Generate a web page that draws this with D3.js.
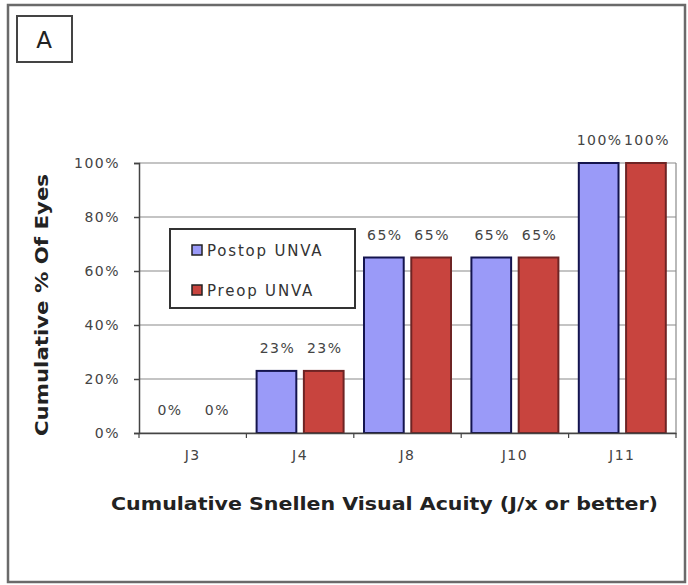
<!DOCTYPE html>
<html><head><meta charset="utf-8">
<script src="https://cdn.jsdelivr.net/npm/d3@7"></script>
<style>body{margin:0;background:#fff}svg{display:block}</style>
</head><body>
<svg id="c" width="688" height="585"></svg>
<script>
const categories = ["J3","J4","J8","J10","J11"];
const seriesNames = ["Postop UNVA","Preop UNVA"];
const postop = [0,23,65,65,100];
const preop = [0,23,65,65,100];
const yTicks = [0,20,40,60,80,100];
const seriesColors = ["#9a9af8","#c8443e"];
const seriesStrokes = ["#14144e","#6e2424"];

const svg = d3.select("#c");
const font = "Verdana, 'DejaVu Sans', sans-serif";
// outer frame
svg.append("rect").attr("x",8).attr("y",5).attr("width",677).attr("height",577)
  .attr("fill","#fff").attr("stroke","#6a6a6a").attr("stroke-width",2.5);
// panel label
svg.append("rect").attr("x",17).attr("y",16).attr("width",55).attr("height",46)
  .attr("fill","#fff").attr("stroke","#444").attr("stroke-width",2);
svg.append("text").attr("x",44).attr("y",48).attr("text-anchor","middle")
  .attr("font-family",font).attr("font-size",23).attr("fill","#222").text("A");

const m = {left:139, right:676, top:163, bottom:433};
const x = d3.scaleBand().domain(categories).range([m.left,m.right]).paddingInner(0.19).paddingOuter(0.095);
const xs = d3.scaleBand().domain(seriesNames).range([0,x.bandwidth()]).paddingInner(0.16);
const y = d3.scaleLinear().domain([0,100]).range([m.bottom,m.top]);

// grid
svg.append("g").selectAll("line").data(yTicks).join("line")
  .attr("x1",m.left).attr("x2",m.right).attr("y1",d=>y(d)).attr("y2",d=>y(d))
  .attr("stroke","#8a8a8a").attr("stroke-width",1.2);
svg.append("line").attr("x1",m.right).attr("x2",m.right).attr("y1",m.top).attr("y2",m.bottom)
  .attr("stroke","#8a8a8a").attr("stroke-width",1.2);

const data = [postop, preop];
const lblStyle = s => s.attr("font-family",font).attr("font-size",14).attr("letter-spacing",1.5).attr("fill","#444");
categories.forEach((c,i)=>{
  seriesNames.forEach((s,j)=>{
    const v = data[j][i];
    const bx = x(c)+xs(s);
    if (v>0) {
      svg.append("rect").attr("x",bx).attr("y",y(v)).attr("width",xs.bandwidth()).attr("height",y(0)-y(v))
        .attr("fill",seriesColors[j]).attr("stroke",seriesStrokes[j]).attr("stroke-width",2);
    }
    svg.append("text").attr("x",bx+xs.bandwidth()/2+1).attr("y",y(v)-18).attr("text-anchor","middle")
      .call(lblStyle).text(v+"%");
  });
});

// axes
const ya = d3.axisLeft(y).tickValues(yTicks).tickFormat(d=>d+"%").tickSize(5).tickPadding(14);
const gy = svg.append("g").attr("transform",`translate(${m.left},0)`).call(ya);
gy.selectAll("text").call(lblStyle);
gy.selectAll("line,path").attr("stroke","#444").attr("stroke-width",1.5);
const xa = d3.axisBottom(x).tickSize(0).tickPadding(17);
const gx = svg.append("g").attr("transform",`translate(0,${m.bottom})`).call(xa);
gx.selectAll("text").call(lblStyle);
gx.select("path").attr("stroke","#444").attr("stroke-width",1.5);
const bounds = categories.map((c)=>x(c)-x.step()*x.paddingInner()/2).concat([m.right]);
svg.append("g").selectAll("line").data(bounds).join("line")
  .attr("x1",d=>d).attr("x2",d=>d).attr("y1",m.bottom).attr("y2",m.bottom+5)
  .attr("stroke","#444").attr("stroke-width",1.2);

// axis titles
svg.append("text").attr("transform",`translate(42,305) rotate(-90)`)
  .attr("text-anchor","middle").attr("dominant-baseline","central").attr("font-family",font).attr("font-weight","bold")
  .attr("font-size",17).attr("fill","#222").attr("textLength",262).attr("lengthAdjust","spacingAndGlyphs")
  .text("Cumulative % Of Eyes");
svg.append("text").attr("x",384.5).attr("y",510).attr("text-anchor","middle")
  .attr("font-family",font).attr("font-weight","bold")
  .attr("font-size",17).attr("fill","#222").attr("textLength",547).attr("lengthAdjust","spacingAndGlyphs")
  .text("Cumulative Snellen Visual Acuity (J/x or better)");

// legend
const lg = svg.append("g");
lg.append("rect").attr("x",170).attr("y",229).attr("width",185).attr("height",79)
  .attr("fill","#fff").attr("stroke","#333").attr("stroke-width",2);
seriesNames.forEach((s,j)=>{
  const ly = 250 + j*40;
  lg.append("rect").attr("x",192).attr("y",ly-5).attr("width",10).attr("height",10)
    .attr("fill",seriesColors[j]).attr("stroke","#222").attr("stroke-width",1.5);
  lg.append("text").attr("x",207).attr("y",ly+5.5).attr("font-family",font).attr("font-size",15)
    .attr("letter-spacing",1.8).attr("fill","#333").text(s);
});
</script>
</body></html>
